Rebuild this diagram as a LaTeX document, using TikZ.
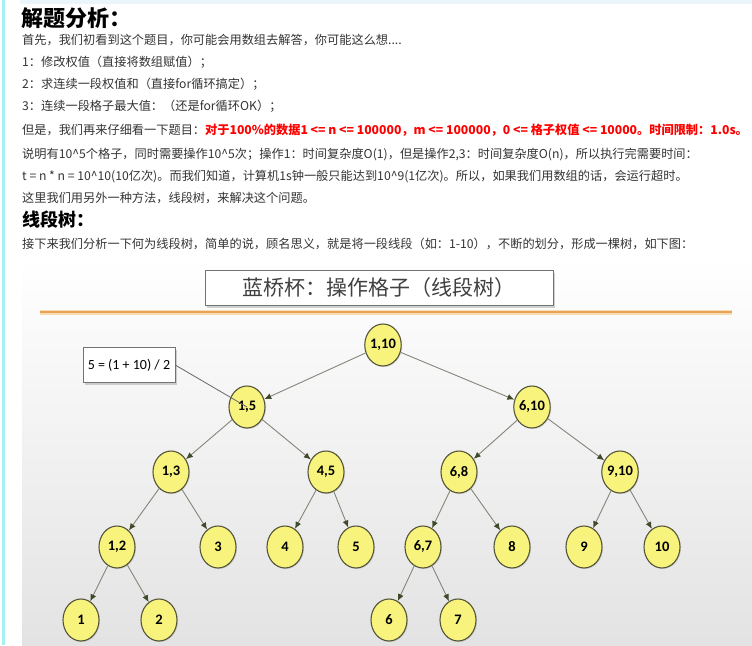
\documentclass[tikz,border=0pt]{standalone}
\usepackage{fontspec}
\setmainfont{Noto Sans CJK SC}
\newfontfamily\labfont{Carlito}
\usepackage{tikz}
\usetikzlibrary{positioning}
\usetikzlibrary{arrows.meta}
\usetikzlibrary{shapes.geometric}
\usetikzlibrary{shadows}

\definecolor{nodefill}{HTML}{F8F37C}
\definecolor{nodeline}{HTML}{55553A}
\definecolor{linkcol}{HTML}{85857A}
\definecolor{tipcol}{HTML}{3E4A2A}
\definecolor{bodytext}{HTML}{333333}
\definecolor{alertred}{HTML}{FF0000}
\definecolor{orangeline}{HTML}{E9A256}
\definecolor{orangeedge}{HTML}{F7DDB5}
\definecolor{sidebar}{HTML}{A8EEF5}
\definecolor{topstrip}{HTML}{EAF6FB}

\tikzset{
    main/.style = {draw=nodeline, line width=1.1pt, ellipse, fill=nodefill, inner sep=0pt,
        minimum width=36pt, minimum height=42pt, font=\labfont\bfseries\fontsize{14.5}{16}\selectfont,
        drop shadow={opacity=0.25, shadow xshift=1pt, shadow yshift=-1pt}},
    link/.style = {draw=linkcol, line width=0.9pt, -{Latex[length=7pt, width=6pt, color=tipcol]}},
    line/.style = {anchor=west, inner sep=0pt, text=bodytext, font=\fontsize{12.2}{14}\selectfont},
    heading/.style = {anchor=west, inner sep=0pt, text=black, font=\bfseries},
    box/.style = {draw=black!55, fill=white, inner sep=0pt,
        drop shadow={opacity=0.35, shadow xshift=2pt, shadow yshift=-2pt}}
}

\begin{document}
\begin{tikzpicture}[x=1pt, y=-1pt]
    \useasboundingbox (0,0) rectangle (752,645);
    % page frame
    \fill[sidebar] (2,0) rectangle (4.5,645);
    \fill[topstrip] (20,0) rectangle (752,4);

    % text above the slide
    \node[heading, font=\bfseries\fontsize{22}{24}\selectfont] (h1) at (21,18) {解题分析：};
    \node[line] (l1) at (22,40) {首先，我们初看到这个题目，你可能会用数组去解答，你可能这么想....};
    \node[line] (l2) at (22,62) {1：修改权值（直接将数组赋值）；};
    \node[line] (l3) at (22,84) {2：求连续一段权值和（直接for循环搞定）；};
    \node[line] (l4) at (22,106) {3：连续一段格子最大值：（还是for循环OK）；};
    \node[line] (l5) at (22,130) {但是，我们再来仔细看一下题目：\textcolor{alertred}{\bfseries 对于100\%的数据1 <= n <= 100000，m <= 100000，0 <= 格子权值 <= 10000。时间限制：1.0s。}};
    \node[line] (l6) at (22,155) {说明有10\textasciicircum5个格子，同时需要操作10\textasciicircum5次；操作1：时间复杂度O(1)，但是操作2,3：时间复杂度O(n)，所以执行完需要时间：};
    \node[line] (l7) at (22,177) {t = n * n = 10\textasciicircum10(10亿次)。而我们知道，计算机1s钟一般只能达到10\textasciicircum9(1亿次)。所以，如果我们用数组的话，会运行超时。};
    \node[line] (l8) at (22,198) {这里我们用另外一种方法，线段树，来解决这个问题。};
    \node[heading, font=\bfseries\fontsize{18}{20}\selectfont] (h2) at (22,220) {线段树：};
    \node[line] (l9) at (22,244) {接下来我们分析一下何为线段树，简单的说，顾名思义，就是将一段线段（如：1-10），不断的划分，形成一棵树，如下图：};

    % slide
    \shade[top color=white, bottom color=black!11] (22,258) rectangle (752,645);
    \draw[orangeedge, line width=5pt] (40,312) -- (732,312);
    \draw[orangeline, line width=2.5pt] (40,312) -- (732,312);
    \node[box, minimum width=348pt, minimum height=35pt, text=black!75,
        font=\fontsize{21}{24}\selectfont] (title) at (379,288) {蓝桥杯：操作格子（线段树）};

    % tree
    \node[main] (n110) at (383,345) {1,10};
    \node[main] (n15) at (247,407) {1,5};
    \node[main] (n610) at (532,407) {6,10};
    \node[main] (n13) at (171,472) {1,3};
    \node[main] (n45) at (326,472) {4,5};
    \node[main] (n68) at (459,472) {6,8};
    \node[main] (n910) at (620,472) {9,10};
    \node[main] (n12) at (117,547) {1,2};
    \node[main] (n3) at (218,547) {3};
    \node[main] (n4) at (285,547) {4};
    \node[main] (n5) at (356,547) {5};
    \node[main] (n67) at (423,547) {6,7};
    \node[main] (n8) at (512,547) {8};
    \node[main] (n9) at (584,547) {9};
    \node[main] (n10) at (662,547) {10};
    \node[main] (n1) at (81,620) {1};
    \node[main] (n2) at (159,620) {2};
    \node[main] (n6) at (389,620) {6};
    \node[main] (n7) at (458,620) {7};

    \draw[link] (n110) -- (n15);
    \draw[link] (n110) -- (n610);
    \draw[link] (n15) -- (n13);
    \draw[link] (n15) -- (n45);
    \draw[link] (n610) -- (n68);
    \draw[link] (n610) -- (n910);
    \draw[link] (n13) -- (n12);
    \draw[link] (n13) -- (n3);
    \draw[link] (n45) -- (n4);
    \draw[link] (n45) -- (n5);
    \draw[link] (n68) -- (n67);
    \draw[link] (n68) -- (n8);
    \draw[link] (n910) -- (n9);
    \draw[link] (n910) -- (n10);
    \draw[link] (n12) -- (n1);
    \draw[link] (n12) -- (n2);
    \draw[link] (n67) -- (n6);
    \draw[link] (n67) -- (n7);

    % note on the middle index
    \node[box, minimum width=92pt, minimum height=35pt, font=\labfont\fontsize{14}{16}\selectfont] (note) at (129,365) {5 = (1 + 10) / 2};
    \draw[black!60, line width=0.8pt] (note.east) -- (n15.center);
\end{tikzpicture}
\end{document}
